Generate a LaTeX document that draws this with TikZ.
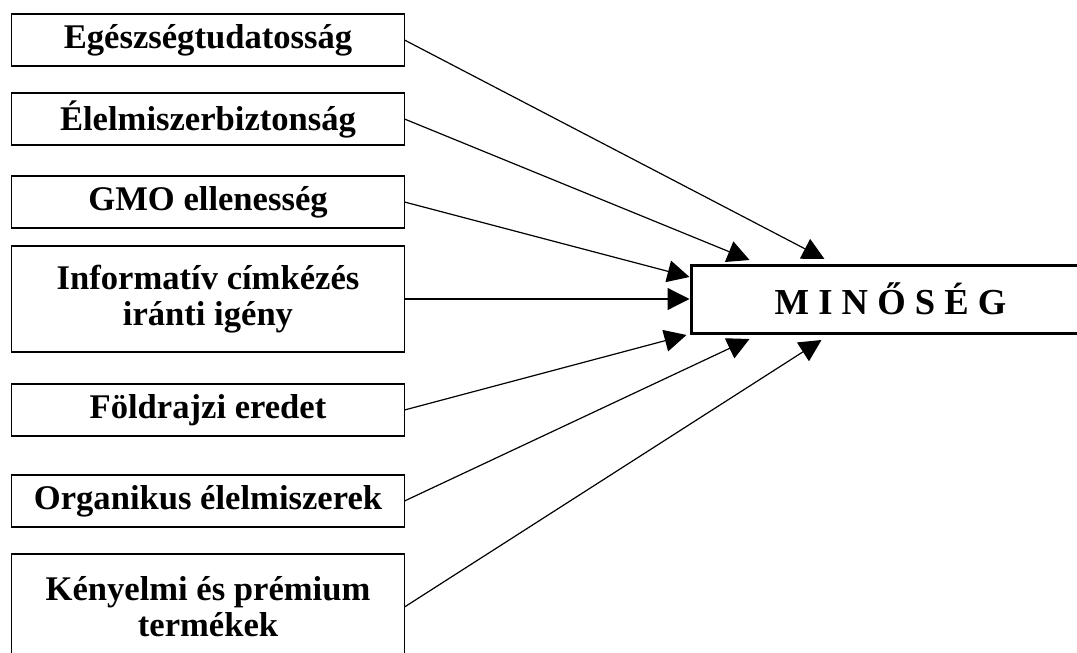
\documentclass[tikz,border=0pt]{standalone}
\usepackage{fontspec}
\setmainfont{Liberation Serif}
\usetikzlibrary{positioning,calc,arrows.meta}

\begin{document}
\begin{tikzpicture}[-{Triangle[length=11pt,width=11pt]}, line width=0.6pt, node distance=13.5pt,
	factor/.style={draw, line width=0.9pt, outer sep=0pt, minimum width=196.5pt, minimum height=26pt, align=center, font=\bfseries\fontsize{17.3}{18}\selectfont},
	big/.style={factor, minimum height=53pt},
	main/.style={draw, line width=1.5pt, outer sep=0pt, minimum width=199pt, minimum height=34pt, font=\bfseries\fontsize{18.3}{20}\selectfont}]

\useasboundingbox (0,0) rectangle (538.5pt,-326.5pt);
\clip (0,0) rectangle (538.5pt,-326.5pt);

%Tényezők
\node[factor]	(A)	at (104pt,-20pt)	{Egészségtudatosság};
\node[factor]	(B)	[below=13.5pt of A]	{Élelmiszerbiztonság};
\node[factor]	(C)	[below=15.5pt of B]	{GMO ellenesség};
\node[big]		(D)	[below=9pt of C]	{Informatív címkézés\\iránti igény};
\node[factor]	(E)	[below=16pt of D]	{Földrajzi eredet};
\node[factor]	(F)	[below=19.5pt of E]	{Organikus élelmiszerek};
\node[big]		(G)	[below=13.5pt of F]	{Kényelmi és prémium\\termékek};

\node[main]		(M)	[right=143.5pt of D]	{M I N Ő S É G};

%Nyílhegyek helye
\coordinate (a) at ($(M.north west)+(66.5pt,3pt)$);
\coordinate (b) at ($(M.north west)+(29pt,2.5pt)$);
\coordinate (c) at ($(M.north west)+(-1pt,-6pt)$);
\coordinate (d) at ($(M.west)+(-1pt,0)$);
\coordinate (e) at ($(M.south west)+(-2.5pt,-1pt)$);
\coordinate (f) at ($(M.south west)+(29pt,-3pt)$);
\coordinate (g) at ($(M.south west)+(65pt,-3.5pt)$);

%Nyilak
\path	(A.east)	edge	(a)
		(B.east)	edge	(b)
		(C.east)	edge	(c)
		(D.east)	edge	(d)
		(E.east)	edge	(e)
		(F.east)	edge	(f)
		(G.east)	edge	(g);

\end{tikzpicture}
\end{document}
